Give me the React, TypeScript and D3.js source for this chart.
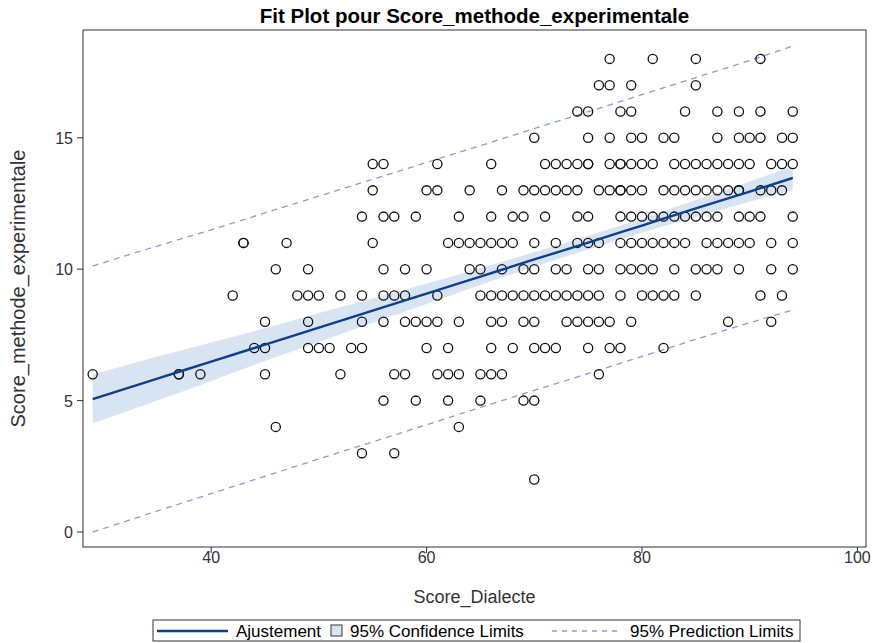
import React from "react";
import * as d3 from "d3";

// Scatter data: Score_Dialecte (x) and Score_methode_experimentale (y)
const pointsX: number[] = [
  29, 37, 37, 39, 42, 43, 43, 44, 45, 45, 45, 46, 46, 47, 48,
  49, 49, 49, 49, 50, 50, 51, 52, 52, 53,
  54, 54, 54, 54, 54, 55, 55, 55, 56, 56, 56, 56, 56, 56,
  57, 57, 57, 57, 58, 58, 58, 58, 59, 59, 59, 60, 60, 60, 60,
  61, 61, 61, 61, 61, 62, 62, 62, 62, 63, 63, 63, 63, 63,
  64, 64, 64, 65, 65, 65, 65, 65, 66, 66, 66, 66, 66, 66, 66,
  67, 67, 67, 67, 67, 67, 68, 68, 68, 68, 69, 69, 69, 69, 69, 69,
  70, 70, 70, 70, 70, 70, 70, 70, 70, 71, 71, 71, 71, 71,
  72, 72, 72, 72, 72, 72, 73, 73, 73, 73, 73,
  74, 74, 74, 74, 74, 74, 74, 75, 75, 75, 75, 75, 75, 75, 75, 75, 75,
  76, 76, 76, 76, 76, 76, 76, 77, 77, 77, 77, 77, 77, 77,
  78, 78, 78, 78, 78, 78, 78, 78, 78, 78, 79, 79, 79, 79, 79, 79, 79, 79, 79,
  80, 80, 80, 80, 80, 80, 80, 81, 81, 81, 81, 81, 81,
  82, 82, 82, 82, 82, 82, 83, 83, 83, 83, 83, 83, 83,
  84, 84, 84, 84, 84, 85, 85, 85, 85, 85, 85, 85, 86, 86, 86, 86, 86,
  87, 87, 87, 87, 87, 87, 87, 88, 88, 88, 88, 89, 89, 89, 89, 89, 89, 89, 89,
  90, 90, 90, 90, 91, 91, 91, 91, 91, 91, 92, 92, 92, 92, 92,
  93, 93, 93, 93, 94, 94, 94, 94, 94, 94,
];
const pointsY: number[] = [
  6, 6, 6, 6, 9, 11, 11, 7, 7, 8, 6, 10, 4, 11, 9,
  9, 10, 8, 7, 9, 7, 7, 9, 6, 7,
  12, 9, 8, 7, 3, 14, 13, 11, 14, 12, 10, 9, 8, 5,
  12, 9, 6, 3, 10, 9, 8, 6, 12, 8, 5, 13, 10, 8, 7,
  14, 13, 9, 8, 6, 11, 7, 6, 5, 12, 11, 8, 6, 4,
  13, 11, 10, 11, 10, 9, 6, 5, 14, 12, 11, 9, 8, 7, 6,
  13, 11, 10, 9, 8, 6, 12, 11, 9, 7, 13, 12, 10, 9, 8, 5,
  15, 13, 11, 10, 9, 8, 7, 5, 2, 14, 13, 12, 9, 7,
  14, 13, 11, 10, 9, 7, 14, 13, 10, 9, 8,
  16, 14, 13, 12, 11, 9, 8, 16, 15, 14, 14, 12, 11, 10, 9, 8, 7,
  17, 13, 11, 10, 9, 8, 6, 18, 17, 15, 14, 13, 8, 7,
  16, 14, 14, 13, 13, 12, 11, 10, 9, 7, 17, 16, 15, 14, 13, 12, 11, 10, 8,
  15, 14, 13, 12, 11, 10, 9, 18, 14, 12, 11, 10, 9,
  15, 13, 12, 11, 9, 7, 15, 14, 13, 12, 11, 10, 9,
  16, 14, 13, 12, 11, 18, 17, 14, 13, 12, 10, 9, 14, 13, 12, 11, 10,
  16, 15, 14, 13, 12, 11, 10, 14, 13, 11, 8, 16, 15, 14, 13, 13, 12, 11, 10,
  15, 14, 12, 11, 18, 16, 15, 13, 12, 9, 14, 13, 11, 10, 8,
  15, 14, 13, 9, 16, 15, 14, 12, 11, 10,
];

// Fit and limits at these x positions
const bandX: number[] = [29, 35, 40, 45, 50, 55, 60, 65, 70, 75, 80, 85, 90, 94];
const fitY: number[] = [5.06, 5.84, 6.48, 7.13, 7.78, 8.42, 9.07, 9.72, 10.37, 11.01, 11.66, 12.31, 12.95, 13.47];
const ciUpper: number[] = [5.99, 6.68, 7.21, 7.75, 8.33, 8.88, 9.46, 10.04, 10.64, 11.27, 11.93, 12.63, 13.33, 13.92];
const ciLower: number[] = [4.13, 5.00, 5.75, 6.51, 7.23, 7.96, 8.68, 9.40, 10.10, 10.75, 11.39, 11.99, 12.57, 13.02];
const piUpper: number[] = [10.12, 10.88, 11.50, 12.14, 12.78, 13.42, 14.06, 14.70, 15.35, 15.99, 16.64, 17.29, 17.94, 18.49];
const piLower: number[] = [0.00, 0.80, 1.46, 2.12, 2.78, 3.43, 4.08, 4.74, 5.39, 6.03, 6.68, 7.33, 7.96, 8.45];

const xTicks: number[] = [40, 60, 80, 100];
const yTicks: number[] = [0, 5, 10, 15];

const title = "Fit Plot pour Score_methode_experimentale";
const xLabel = "Score_Dialecte";
const yLabel = "Score_methode_experimentale";
const legendLabels = ["Ajustement", "95% Confidence Limits", "95% Prediction Limits"];

const W = 872;
const H = 643;
const L = 83, R = 866, T = 30, B = 547;
const FONT = "'Liberation Sans', Arial, sans-serif";
const FIT_COLOR = "#0c3f8c";
const CI_COLOR = "#d9e4f3";
const PI_COLOR = "#8a9fc6";

export default function App() {
  const x = d3.scaleLinear().domain([28.1, 100.8]).range([L, R]);
  const y = d3.scaleLinear().domain([-0.57, 19.1]).range([B, T]);

  const idx = bandX.map((_, i) => i);
  const area = d3
    .area<number>()
    .x((i) => x(bandX[i]))
    .y0((i) => y(ciLower[i]))
    .y1((i) => y(ciUpper[i]))
    .curve(d3.curveMonotoneX);
  const line = (arr: number[]) =>
    d3
      .line<number>()
      .x((i) => x(bandX[i]))
      .y((i) => y(arr[i]))
      .curve(d3.curveMonotoneX)(idx) as string;

  const legY = 631;
  return (
    <svg
      width={W}
      height={H}
      style={{ position: "absolute", left: 0, top: 0, background: "#fff" }}
      fontFamily={FONT}
    >
      <rect x={0} y={0} width={W} height={H} fill="#fff" />
      <text x={(L + R) / 2} y={23} textAnchor="middle" fontSize={20.5} fontWeight="bold" fill="#000">
        {title}
      </text>
      <defs>
        <clipPath id="plotclip">
          <rect x={L} y={T} width={R - L} height={B - T} />
        </clipPath>
      </defs>
      <g clipPath="url(#plotclip)">
        <path d={area(idx) as string} fill={CI_COLOR} />
        <path d={line(piUpper)} fill="none" stroke={PI_COLOR} strokeWidth={1.3} strokeDasharray="6,5" />
        <path d={line(piLower)} fill="none" stroke={PI_COLOR} strokeWidth={1.3} strokeDasharray="6,5" />
        {pointsX.map((px, i) => (
          <circle key={i} cx={x(px)} cy={y(pointsY[i])} r={4.6} fill="none" stroke="#111" strokeWidth={1.3} />
        ))}
        <path d={line(fitY)} fill="none" stroke={FIT_COLOR} strokeWidth={2.4} />
      </g>
      <rect x={L} y={T} width={R - L} height={B - T} fill="none" stroke="#333" strokeWidth={1} />
      {xTicks.map((t) => (
        <g key={t}>
          <line x1={x(t)} x2={x(t)} y1={B} y2={B + 6} stroke="#333" />
          <text x={x(t)} y={B + 16} textAnchor="middle" fontSize={16} fill="#333">
            {t}
          </text>
        </g>
      ))}
      {yTicks.map((t) => (
        <g key={t}>
          <line x1={L - 6} x2={L} y1={y(t)} y2={y(t)} stroke="#333" />
          <text x={L - 10} y={y(t) + 6} textAnchor="end" fontSize={16} fill="#333">
            {t}
          </text>
        </g>
      ))}
      <text x={(L + R) / 2} y={603} textAnchor="middle" fontSize={18} fill="#333">
        {xLabel}
      </text>
      <text
        transform={`translate(25,${(T + B) / 2}) rotate(-90)`}
        textAnchor="middle"
        fontSize={20}
        fill="#333"
      >
        {yLabel}
      </text>
      <g>
        <rect x={153} y={620} width={647} height={21} fill="#fff" stroke="#333" />
        <line x1={157} x2={228} y1={legY} y2={legY} stroke={FIT_COLOR} strokeWidth={2.4} />
        <text x={236} y={legY + 6} fontSize={17} fill="#000">
          {legendLabels[0]}
        </text>
        <rect x={331} y={625} width={11} height={11} fill={CI_COLOR} stroke="#333" />
        <text x={350} y={legY + 6} fontSize={17} fill="#000">
          {legendLabels[1]}
        </text>
        <line x1={552} x2={618} y1={legY} y2={legY} stroke={PI_COLOR} strokeWidth={1.3} strokeDasharray="5,5" />
        <text x={630} y={legY + 6} fontSize={17} fill="#000">
          {legendLabels[2]}
        </text>
      </g>
    </svg>
  );
}
